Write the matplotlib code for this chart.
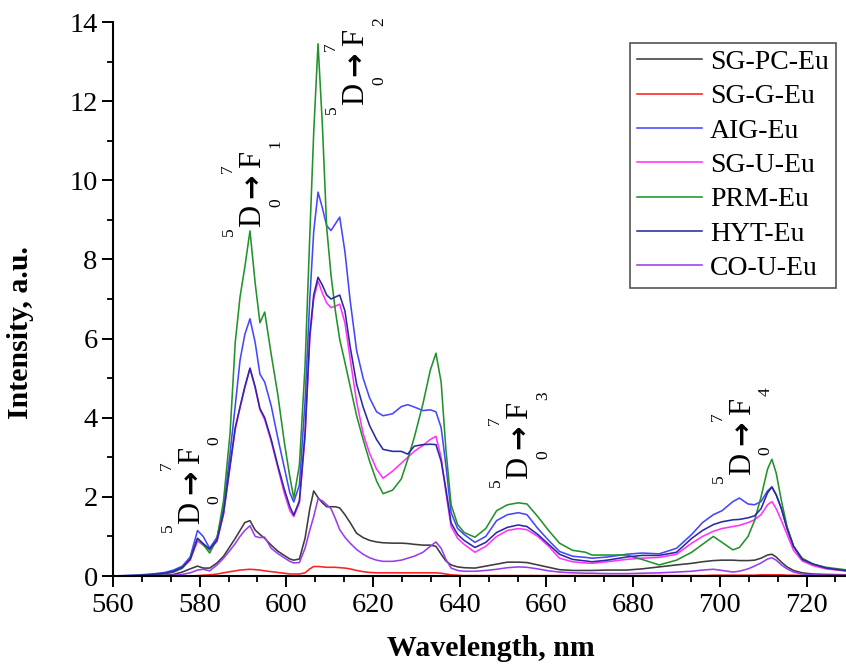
import matplotlib
matplotlib.use("Agg")
import matplotlib.pyplot as plt
from matplotlib.ticker import MultipleLocator

wavelength = [560, 565, 569, 572, 574, 576, 577.8, 579.5, 580.8, 582.3, 584, 585.5, 587, 588.2, 589.3,
              590.4, 591.6, 592.8, 593.9, 595, 596.5, 598, 599.5, 600.8, 601.7, 603, 604.3, 605.4, 606.3,
              607.3, 608.3, 609.3, 610.3, 611.3, 612.3, 613.5, 614.7, 616.2, 617.7, 619.2, 620.8, 622.3,
              624.5, 626.5, 628, 629.5, 631.5, 633.2, 634.5, 635.7, 636.8, 638, 639.5, 641, 643.5, 646,
              648.5, 651, 653.5, 655.5, 658, 660.5, 663, 666, 669, 670.5, 674, 678.5, 682, 686, 690,
              693.5, 696, 698.5, 700.5, 703, 704.5, 706.5, 708, 709.5, 711, 712, 713, 714.2, 715.5, 717,
              719, 721.5, 724.5, 729.5]

sg_pc_eu = [0, 0, 0.01, 0.02, 0.04, 0.1, 0.18, 0.25, 0.2, 0.2, 0.33, 0.5, 0.75, 0.95, 1.15,
            1.35, 1.4, 1.16, 1.05, 0.95, 0.78, 0.63, 0.52, 0.43, 0.4, 0.43, 0.95, 1.7, 2.15,
            1.98, 1.85, 1.75, 1.75, 1.75, 1.72, 1.55, 1.35, 1.08, 0.97, 0.9, 0.86, 0.84,
            0.83, 0.83, 0.82, 0.8, 0.78, 0.78, 0.75, 0.55, 0.38, 0.28, 0.23, 0.21, 0.2, 0.25,
            0.3, 0.35, 0.35, 0.34, 0.28, 0.22, 0.16, 0.14, 0.14, 0.14, 0.15, 0.15, 0.18, 0.23, 0.28,
            0.32, 0.36, 0.39, 0.4, 0.4, 0.39, 0.39, 0.4, 0.45, 0.53, 0.55, 0.48, 0.35, 0.23, 0.14,
            0.08, 0.05, 0.04, 0.03]

sg_g_eu = [0, 0, 0, 0, 0, 0, 0, 0.01, 0.02, 0.03, 0.05, 0.08, 0.11, 0.13, 0.15,
           0.16, 0.17, 0.16, 0.15, 0.13, 0.11, 0.09, 0.07, 0.05, 0.05, 0.05, 0.08, 0.18, 0.24,
           0.24, 0.23, 0.22, 0.22, 0.22, 0.21, 0.2, 0.18, 0.14, 0.11, 0.09, 0.08, 0.08,
           0.08, 0.08, 0.08, 0.08, 0.08, 0.08, 0.08, 0.07, 0.05, 0.03, 0.02, 0.01, 0.01, 0.01,
           0.01, 0.01, 0.01, 0.01, 0.01, 0.01, 0.01, 0.01, 0.01, 0.01, 0.01, 0.01, 0.01, 0.01, 0.01,
           0.01, 0.01, 0.02, 0.02, 0.02, 0.02, 0.02, 0.02, 0.03, 0.03, 0.03, 0.03, 0.03, 0.02, 0.02,
           0.01, 0.01, 0.01, 0.01]

aig_eu = [0, 0.02, 0.05, 0.09, 0.15, 0.25, 0.48, 1.15, 1.0, 0.7, 0.98, 1.7, 3.1, 4.3, 5.45,
          6.1, 6.5, 5.9, 5.1, 4.9, 4.3, 3.5, 2.75, 2.1, 1.87, 2.3, 4.4, 7.0, 8.7,
          9.7, 9.3, 8.85, 8.73, 8.9, 9.07, 8.2, 6.97, 5.7, 5.0, 4.5, 4.15, 4.05,
          4.1, 4.28, 4.33, 4.27, 4.18, 4.2, 4.15, 3.75, 2.8, 1.6, 1.2, 1.05, 0.85, 1.0,
          1.4, 1.55, 1.6, 1.55, 1.2, 0.9, 0.62, 0.5, 0.47, 0.45, 0.48, 0.55, 0.58, 0.56, 0.7,
          1.05, 1.35, 1.55, 1.65, 1.88, 1.97, 1.82, 1.8, 1.88, 2.15, 2.25, 2.05, 1.7, 1.2, 0.75,
          0.42, 0.3, 0.2, 0.13]

sg_u_eu = [0, 0.01, 0.03, 0.06, 0.1, 0.2, 0.4, 0.88, 0.78, 0.65, 0.88, 1.55, 2.75, 3.7, 4.25,
           4.75, 5.25, 4.75, 4.2, 3.95, 3.4, 2.75, 2.1, 1.65, 1.5, 1.85, 3.5, 6.0, 7.0,
           7.45, 7.15, 6.9, 6.78, 6.82, 6.87, 6.4, 5.5, 4.4, 3.6, 3.1, 2.7, 2.47,
           2.65, 2.85, 3.0, 3.15, 3.3, 3.45, 3.53, 3.0, 2.1, 1.25, 0.95, 0.8, 0.6, 0.75,
           1.0, 1.15, 1.2, 1.17, 1.0, 0.75, 0.45, 0.36, 0.33, 0.32, 0.36, 0.42, 0.45, 0.47, 0.55,
           0.83, 1.0, 1.13, 1.2, 1.25, 1.28, 1.35, 1.42, 1.55, 1.8, 1.88, 1.7, 1.4, 1.05, 0.65,
           0.38, 0.26, 0.18, 0.12]

prm_eu = [0, 0.01, 0.03, 0.06, 0.1, 0.2, 0.45, 0.95, 0.8, 0.58, 0.95, 1.9, 3.6, 5.9, 7.05,
          7.8, 8.72, 7.4, 6.4, 6.67, 5.6, 4.6, 3.4, 2.5, 1.97, 2.8, 5.3, 8.6, 11.2,
          13.45, 11.4, 8.8, 7.6, 6.7, 5.98, 5.4, 4.8, 4.05, 3.45, 2.9, 2.4, 2.08,
          2.17, 2.45, 2.95, 3.5, 4.35, 5.2, 5.63, 4.9, 3.2, 1.8, 1.3, 1.1, 0.98, 1.2,
          1.65, 1.8, 1.85, 1.82, 1.5, 1.15, 0.83, 0.65, 0.6, 0.53, 0.53, 0.53, 0.42, 0.28, 0.4,
          0.6, 0.8, 1.0, 0.85, 0.66, 0.72, 1.0, 1.4, 2.0, 2.7, 2.95, 2.6, 1.9, 1.25, 0.75,
          0.45, 0.3, 0.22, 0.15]

hyt_eu = [0, 0.01, 0.04, 0.07, 0.12, 0.22, 0.42, 0.95, 0.82, 0.68, 0.9, 1.6, 2.8, 3.75, 4.27,
          4.78, 5.25, 4.78, 4.23, 4.0, 3.45, 2.8, 2.2, 1.75, 1.54, 1.9, 3.6, 6.1, 7.1,
          7.55, 7.35, 7.1, 7.0, 7.05, 7.1, 6.7, 5.8, 4.85, 4.27, 3.8, 3.45, 3.2,
          3.15, 3.15, 3.08, 3.28, 3.32, 3.33, 3.32, 2.9, 2.2, 1.34, 1.05, 0.9, 0.72, 0.85,
          1.1, 1.23, 1.29, 1.25, 1.05, 0.8, 0.55, 0.42, 0.38, 0.36, 0.4, 0.48, 0.52, 0.52, 0.6,
          0.95, 1.15, 1.3, 1.37, 1.42, 1.43, 1.47, 1.52, 1.7, 2.1, 2.25, 2.05, 1.7, 1.2, 0.75,
          0.42, 0.3, 0.2, 0.13]

co_u_eu = [0, 0, 0, 0.01, 0.02, 0.04, 0.08, 0.15, 0.17, 0.13, 0.28, 0.45, 0.65, 0.82, 1.0,
           1.15, 1.27, 1.0, 0.97, 0.98, 0.7, 0.57, 0.46, 0.37, 0.33, 0.34, 0.7, 1.16, 1.5,
           1.95, 1.9, 1.8, 1.7, 1.45, 1.17, 0.98, 0.83, 0.67, 0.55, 0.46, 0.4, 0.37,
           0.37, 0.4, 0.45, 0.5, 0.6, 0.75, 0.86, 0.7, 0.42, 0.2, 0.14, 0.12, 0.12, 0.14,
           0.17, 0.21, 0.23, 0.22, 0.18, 0.13, 0.1, 0.08, 0.07, 0.07, 0.06, 0.06, 0.07, 0.08, 0.1,
           0.12, 0.15, 0.17, 0.14, 0.1, 0.12, 0.18, 0.25, 0.33, 0.43, 0.46, 0.4, 0.28, 0.18, 0.1,
           0.05, 0.03, 0.02, 0.02]

series_names = ["SG-PC-Eu", "SG-G-Eu", "AIG-Eu", "SG-U-Eu", "PRM-Eu", "HYT-Eu", "CO-U-Eu"]
series_values = [sg_pc_eu, sg_g_eu, aig_eu, sg_u_eu, prm_eu, hyt_eu, co_u_eu]
series_colors = ["#3c3c3c", "#ff2020", "#4646ff", "#ff33ff", "#22922a", "#2a2aa0", "#9a3cf0"]

# transitions 5D0 -> 7FJ : J index and arrow-centre position
transition_j = ["0", "1", "2", "3", "4"]
label_x = [578.2, 592.3, 616.05, 653.9, 705.3]
label_y = [2.37, 9.87, 12.95, 3.51, 3.61]

plt.rcParams["font.family"] = ["Liberation Serif", "DejaVu Serif"]

W, H = 846, 666
fig = plt.figure(figsize=(W / 100, H / 100), dpi=100)
ax = fig.add_axes([113 / W, 90 / H, (W - 113) / W, (576 - 22) / H])

for name, vals, col in zip(series_names, series_values, series_colors):
    ax.plot(wavelength, vals, color=col, lw=1.15, label=name)

ax.set_xlim(560, 729.1)
ax.set_ylim(0, 14)
ax.spines["top"].set_visible(False)
ax.spines["right"].set_visible(False)
for s in ("left", "bottom"):
    ax.spines[s].set_linewidth(1.5)

ax.xaxis.set_major_locator(MultipleLocator(20))
ax.xaxis.set_minor_locator(MultipleLocator(20 / 3))
ax.yaxis.set_major_locator(MultipleLocator(2))
ax.yaxis.set_minor_locator(MultipleLocator(1))
ax.tick_params(which="major", direction="out", length=8, width=1.4, labelsize=20.5)
ax.tick_params(axis="x", which="major", pad=4)
ax.tick_params(axis="y", which="major", pad=3)
ax.tick_params(which="minor", direction="out", length=4.5, width=1.3)

ax.set_xlabel("Wavelength, nm", fontsize=21.5, fontweight="bold")
ax.set_ylabel("Intensity, a.u.", fontsize=21.5, fontweight="bold")
ax.xaxis.set_label_coords(0.516, -0.106)
ax.yaxis.set_label_coords(-0.108, 0.439)

big = 22
small = 12.5
# offsets in points (x right, y up) relative to arrow centre
pieces = [("D", 0, -22, big), ("F", 0, 19, big), ("5", -17, -33, small), ("7", -18, 12, small),
          ("0", 16.5, -12.5, small)]
for j, lx, ly in zip(transition_j, label_x, label_y):
    ax.annotate("\u2192", (lx, ly), xytext=(0, 0), textcoords="offset points", rotation=90,
                ha="center", va="center", fontsize=21, fontweight="bold",
                family=["DejaVu Sans"])
    for t, dx, dy, fs in pieces:
        ax.annotate(t, (lx, ly), xytext=(dx, dy), textcoords="offset points", rotation=90,
                    ha="center", va="center", fontsize=fs)
    ax.annotate(j, (lx, ly), xytext=(16.5, 30), textcoords="offset points", rotation=90,
                ha="center", va="center", fontsize=small)

leg = ax.legend(loc="upper right", bbox_to_anchor=(836 / W, 1 - 42.5 / H),
                bbox_transform=fig.transFigure, borderaxespad=0, fontsize=20,
                frameon=True, fancybox=False, edgecolor="#555555", framealpha=1,
                handlelength=2.35, handletextpad=0.3, labelspacing=0.32, borderpad=0.25)
leg.get_frame().set_linewidth(1.2)

fig.savefig("out.png", dpi=100)
